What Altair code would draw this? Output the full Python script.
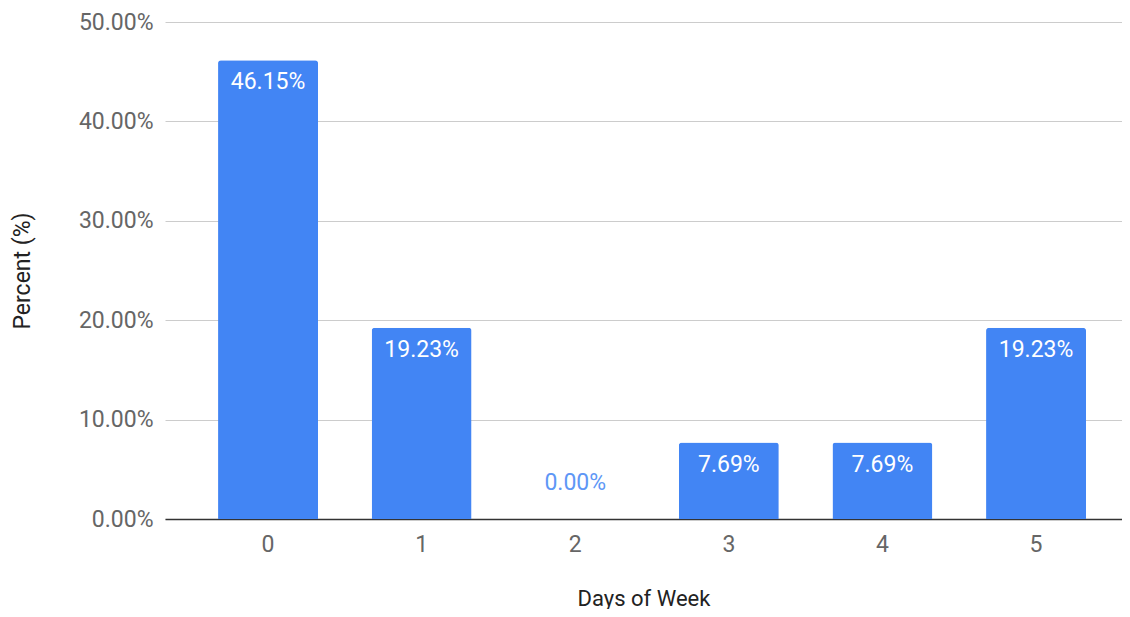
import altair as alt
import pandas as pd

days = ["0", "1", "2", "3", "4", "5"]
percent = [0.4615, 0.1923, 0.0, 0.0769, 0.0769, 0.1923]

df = pd.DataFrame({"day": days, "pct": percent})

FONT = "Roboto"
BLUE = "#4285F4"
FS = 23

x = alt.X(
    "day:N",
    sort=days,
    title="Days of Week",
    scale=alt.Scale(paddingInner=0.349, paddingOuter=0.2897, align=0.596),
    axis=alt.Axis(
        labelAngle=0,
        labelFont=FONT,
        labelFontSize=FS,
        labelColor="#666666",
        labelPadding=14,
        ticks=False,
        domainColor="#333333",
        domainWidth=1.5,
        titleFont=FONT,
        titleFontSize=22,
        titleFontWeight="normal",
        titleColor="#222222",
        titlePadding=32,
    ),
)

y = alt.Y(
    "pct:Q",
    title="Percent (%)",
    scale=alt.Scale(domain=[0, 0.5], nice=False),
    axis=alt.Axis(
        format=".2%",
        values=[0, 0.1, 0.2, 0.3, 0.4, 0.5],
        labelFont=FONT,
        labelFontSize=FS,
        labelColor="#666666",
        labelPadding=12,
        ticks=False,
        domain=False,
        gridColor="#cccccc",
        gridWidth=1,
        titleFont=FONT,
        titleFontSize=FS,
        titleFontWeight="normal",
        titleColor="#222222",
        titlePadding=44,
    ),
)

bars = alt.Chart(df).mark_bar(
    color=BLUE, cornerRadiusTopLeft=3, cornerRadiusTopRight=3
).encode(x=x, y=y)

inside = alt.Chart(df).transform_filter("datum.pct > 0").mark_text(
    baseline="top", dy=11, color="white", font=FONT, fontSize=FS
).encode(
    x=alt.X("day:N", sort=days),
    y="pct:Q",
    text=alt.Text("pct:Q", format=".2%"),
)

outside = alt.Chart(df).transform_filter("datum.pct <= 0").mark_text(
    baseline="alphabetic", dy=-29, color="#5e97f6", font=FONT, fontSize=FS
).encode(
    x=alt.X("day:N", sort=days),
    y="pct:Q",
    text=alt.Text("pct:Q", format=".2%"),
)

chart = (
    alt.layer(bars, inside, outside)
    .properties(
        width=957,
        height=497,
        autosize=alt.AutoSizeParams(type="none"),
        padding={"left": 157, "top": 14, "right": 0, "bottom": 90},
    )
    .configure_view(stroke=None)
)

chart.save("out.html", embed_options={"renderer": "svg", "actions": False})
